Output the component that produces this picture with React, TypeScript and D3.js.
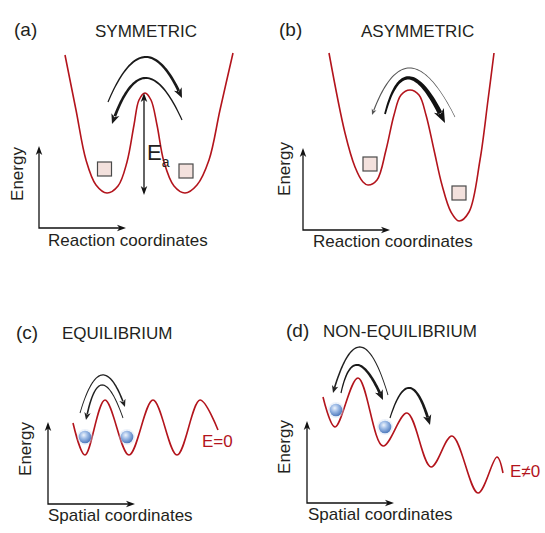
import { useEffect, useRef } from 'react';
import * as d3 from 'd3';

type Pt = [number, number];

// energy profiles, [coordinate, energy] measured from each panel's axis origin
const curveA: Pt[] = [
  [26, 173], [37, 118], [47, 68], [57, 43], [68, 35], [79, 42], [88, 66], [95, 103], [100, 128],
  [106, 135], [112, 128], [118, 103], [125, 66], [135, 42], [146, 35], [158, 43], [170, 68],
  [181, 118], [194, 175],
];
const curveB: Pt[] = [
  [26, 177], [42, 97], [52, 63], [60, 48], [65, 45], [74, 50], [83, 80], [91, 115], [98, 135],
  [107, 140], [116, 135], [123, 115], [131, 80], [139, 45], [148, 18], [156, 9], [166, 18],
  [177, 70], [185, 130], [191, 177],
];
const curveC: Pt[] = [
  [25, 81], [37, 49], [57, 104], [81, 49], [105, 104], [129, 49], [152, 104], [170, 74],
];
const curveD: Pt[] = [
  [16, 106], [28, 76], [51, 125], [76, 57], [100, 90], [124, 36], [145, 67], [171, 10],
  [190, 46], [196, 30],
];

// particles sitting in wells
const squaresA: Pt[] = [[65.5, 59], [147, 57]];
const squaresB: Pt[] = [[67, 66], [156, 37]];
const ballsC: Pt[] = [[37, 67], [79, 67]];
const ballsD: Pt[] = [[29, 93], [78, 76]];

// hopping arrows: start, apex, tip
type Hop = { from: Pt; via: Pt; to: Pt; kind: 'thin' | 'light' | 'medium' | 'bold' };
const hopsA: Hop[] = [
  { from: [69, 126], via: [106, 171], to: [143, 130], kind: 'medium' },
  { from: [143, 108], via: [106, 150], to: [73, 104], kind: 'medium' },
];
const hopsB: Hop[] = [
  { from: [152, 113], via: [107, 162], to: [69, 115], kind: 'thin' },
  { from: [82, 116], via: [107, 152], to: [142, 107], kind: 'bold' },
];
const hopsC: Hop[] = [
  { from: [32, 91], via: [54, 129], to: [77, 97], kind: 'light' },
  { from: [75, 86], via: [54, 119], to: [38, 84], kind: 'light' },
];
const hopsD: Hop[] = [
  { from: [81, 108], via: [53, 156], to: [26, 110], kind: 'light' },
  { from: [34, 110], via: [51, 138], to: [76, 103], kind: 'medium' },
  { from: [83, 85], via: [103, 115], to: [123, 78], kind: 'medium' },
];

// activation energy span in panel (a)
const barrierA = { x: 105, top: 135, bottom: 33 };

const panelLabels = ['(a)', '(b)', '(c)', '(d)'];
const panelTitles = ['SYMMETRIC', 'ASYMMETRIC', 'EQUILIBRIUM', 'NON-EQUILIBRIUM'];
const xAxisLabels = ['Reaction coordinates', 'Reaction coordinates', 'Spatial coordinates', 'Spatial coordinates'];
const yAxisLabel = 'Energy';
const fieldLabels = ['E=0', 'E\u22600'];

const RED = '#b3141c';
const INK = '#231f20';
const FONT = '"Liberation Sans", Arial, sans-serif';

const hopStyle = {
  thin: { w0: 0.6, w1: 1.2, head: 6, headW: 5, color: '#555' },
  light: { w0: 0.9, w1: 1.6, head: 7.5, headW: 6.5, color: '#222' },
  medium: { w0: 1.2, w1: 2.8, head: 10, headW: 8.5, color: '#1a1a1a' },
  bold: { w0: 1.8, w1: 4.8, head: 14, headW: 11, color: '#111' },
};

const headPath = (tip: Pt, u: Pt, len: number, w: number) => {
  const n: Pt = [-u[1], u[0]];
  const bx = tip[0] - u[0] * len;
  const by = tip[1] - u[1] * len;
  const nx = tip[0] - u[0] * len * 0.72;
  const ny = tip[1] - u[1] * len * 0.72;
  return `M${tip[0]},${tip[1]}L${bx + n[0] * w / 2},${by + n[1] * w / 2}L${nx},${ny}L${bx - n[0] * w / 2},${by - n[1] * w / 2}Z`;
};

// tapered quadratic arc through p0, apex pm, ending at p1 with an arrow head
const hopPath = (p0: Pt, pm: Pt, p1: Pt, st: typeof hopStyle.thin) => {
  const c: Pt = [2 * pm[0] - (p0[0] + p1[0]) / 2, 2 * pm[1] - (p0[1] + p1[1]) / 2];
  const B = (t: number): Pt => [
    (1 - t) * (1 - t) * p0[0] + 2 * (1 - t) * t * c[0] + t * t * p1[0],
    (1 - t) * (1 - t) * p0[1] + 2 * (1 - t) * t * c[1] + t * t * p1[1],
  ];
  const D = (t: number): Pt => [
    2 * (1 - t) * (c[0] - p0[0]) + 2 * t * (p1[0] - c[0]),
    2 * (1 - t) * (c[1] - p0[1]) + 2 * t * (p1[1] - c[1]),
  ];
  let tb = 1;
  for (let t = 1; t > 0; t -= 0.005) {
    const b = B(t);
    if (Math.hypot(b[0] - p1[0], b[1] - p1[1]) >= st.head * 0.75) { tb = t; break; }
  }
  const N = 50;
  const left: Pt[] = [];
  const right: Pt[] = [];
  for (let i = 0; i <= N; i++) {
    const t = (tb * i) / N;
    const b = B(t);
    const d = D(t);
    const l = Math.hypot(d[0], d[1]);
    const w = st.w0 + (st.w1 - st.w0) * (i / N);
    const nx = (-d[1] / l) * w / 2;
    const ny = (d[0] / l) * w / 2;
    left.push([b[0] + nx, b[1] + ny]);
    right.push([b[0] - nx, b[1] - ny]);
  }
  const body = 'M' + left.concat(right.reverse()).map((p) => p.join(',')).join('L') + 'Z';
  const bEnd = B(tb);
  const dl = Math.hypot(p1[0] - bEnd[0], p1[1] - bEnd[1]);
  const u: Pt = [(p1[0] - bEnd[0]) / dl, (p1[1] - bEnd[1]) / dl];
  return body + headPath(p1, u, st.head, st.headW);
};

type Panel = {
  ox: number; oy: number; curve: Pt[]; hops: Hop[];
  squares?: Pt[]; balls?: Pt[];
  label: Pt; title: Pt; xlab: Pt; ylab: Pt; field?: { text: string; at: Pt };
};

const App = () => {
  const ref = useRef<SVGSVGElement>(null);

  useEffect(() => {
    const svg = d3.select(ref.current);
    svg.selectAll('*').remove();

    const defs = svg.append('defs');
    const grad = defs.append('radialGradient').attr('id', 'ball').attr('cx', '40%').attr('cy', '35%').attr('r', '65%');
    grad.append('stop').attr('offset', '0%').attr('stop-color', '#eef4fc');
    grad.append('stop').attr('offset', '45%').attr('stop-color', '#9dbbe6');
    grad.append('stop').attr('offset', '100%').attr('stop-color', '#4f7bbd');

    const panels: Panel[] = [
      { ox: 39, oy: 228, curve: curveA, hops: hopsA, squares: squaresA, label: [14, 36], title: [95, 37], xlab: [48, 246], ylab: [23, 174] },
      { ox: 303, oy: 230, curve: curveB, hops: hopsB, squares: squaresB, label: [279, 36], title: [361, 37], xlab: [313, 247], ylab: [290, 169] },
      { ox: 48, oy: 504, curve: curveC, hops: hopsC, balls: ballsC, label: [16, 339], title: [62, 339], xlab: [48, 521], ylab: [31, 449], field: { text: fieldLabels[0], at: [202, 447] } },
      { ox: 307, oy: 503, curve: curveD, hops: hopsD, balls: ballsD, label: [286, 337], title: [323, 337], xlab: [308, 520], ylab: [290, 447], field: { text: fieldLabels[1], at: [510, 477] } },
    ];

    panels.forEach((p, i) => {
      const x = d3.scaleLinear().domain([0, 100]).range([p.ox, p.ox + 100]);
      const y = d3.scaleLinear().domain([0, 100]).range([p.oy, p.oy - 100]);
      const g = svg.append('g');

      // axes with arrow heads
      const axisTop: Pt = [x(0), y(82)];
      const axisRight: Pt = [x(87), y(0)];
      g.append('path')
        .attr('d', `M${axisTop[0]},${axisTop[1] + 5}L${x(0)},${y(0)}L${axisRight[0] - 5},${axisRight[1]}`)
        .attr('fill', 'none').attr('stroke', '#111').attr('stroke-width', 1.3);
      g.append('path').attr('d', headPath(axisTop, [0, -1], 9, 6.5)).attr('fill', '#111');
      g.append('path').attr('d', headPath(axisRight, [1, 0], 9, 6.5)).attr('fill', '#111');

      // energy profile
      const line = d3.line<Pt>().x((d) => x(d[0])).y((d) => y(d[1])).curve(d3.curveCatmullRom.alpha(0.5));
      g.append('path').attr('d', line(p.curve)).attr('fill', 'none').attr('stroke', RED).attr('stroke-width', 1.6);

      (p.squares || []).forEach((s) => {
        g.append('rect')
          .attr('x', x(s[0]) - 7).attr('y', y(s[1]) - 7).attr('width', 14).attr('height', 14)
          .attr('fill', '#f3e1dd').attr('stroke', '#4a4a4a').attr('stroke-width', 1.2);
      });
      (p.balls || []).forEach((b) => {
        g.append('circle').attr('cx', x(b[0])).attr('cy', y(b[1])).attr('r', 8).attr('fill', '#c9daf2').attr('opacity', 0.35);
        g.append('circle').attr('cx', x(b[0])).attr('cy', y(b[1])).attr('r', 6.3).attr('fill', 'url(#ball)');
      });

      p.hops.forEach((h) => {
        const st = hopStyle[h.kind];
        g.append('path')
          .attr('d', hopPath([x(h.from[0]), y(h.from[1])], [x(h.via[0]), y(h.via[1])], [x(h.to[0]), y(h.to[1])], st))
          .attr('fill', st.color);
      });

      if (i === 0) {
        const bx = x(barrierA.x);
        const top: Pt = [bx, y(barrierA.top)];
        const bot: Pt = [bx, y(barrierA.bottom)];
        g.append('line').attr('x1', bx).attr('x2', bx).attr('y1', top[1] + 5).attr('y2', bot[1] - 5)
          .attr('stroke', '#111').attr('stroke-width', 1.3);
        g.append('path').attr('d', headPath(top, [0, -1], 9, 6.5)).attr('fill', '#111');
        g.append('path').attr('d', headPath(bot, [0, 1], 9, 6.5)).attr('fill', '#111');
        const ea = g.append('text').attr('x', bx + 3).attr('y', 160).attr('font-family', FONT).attr('fill', INK);
        ea.append('tspan').attr('font-size', 22).text('E');
        ea.append('tspan').attr('font-size', 14).attr('dy', 7).text('a');
      }

      const text = (pos: Pt, s: string, size: number) =>
        g.append('text').attr('x', pos[0]).attr('y', pos[1]).attr('font-family', FONT)
          .attr('font-size', size).attr('fill', INK).text(s);

      text(p.label, panelLabels[i], 19);
      text(p.title, panelTitles[i], 17);
      text(p.xlab, xAxisLabels[i], 17);
      g.append('text')
        .attr('transform', `translate(${p.ylab[0]},${p.ylab[1]}) rotate(-90)`)
        .attr('text-anchor', 'middle').attr('font-family', FONT).attr('font-size', 17)
        .attr('fill', INK).text(yAxisLabel);
      if (p.field) {
        text(p.field.at, p.field.text, 17).attr('fill', RED);
      }
    });
  }, []);

  return (
    <svg
      ref={ref}
      width={545}
      height={533}
      style={{ position: 'absolute', left: 0, top: 0, background: '#fff' }}
    />
  );
};

export default App;
